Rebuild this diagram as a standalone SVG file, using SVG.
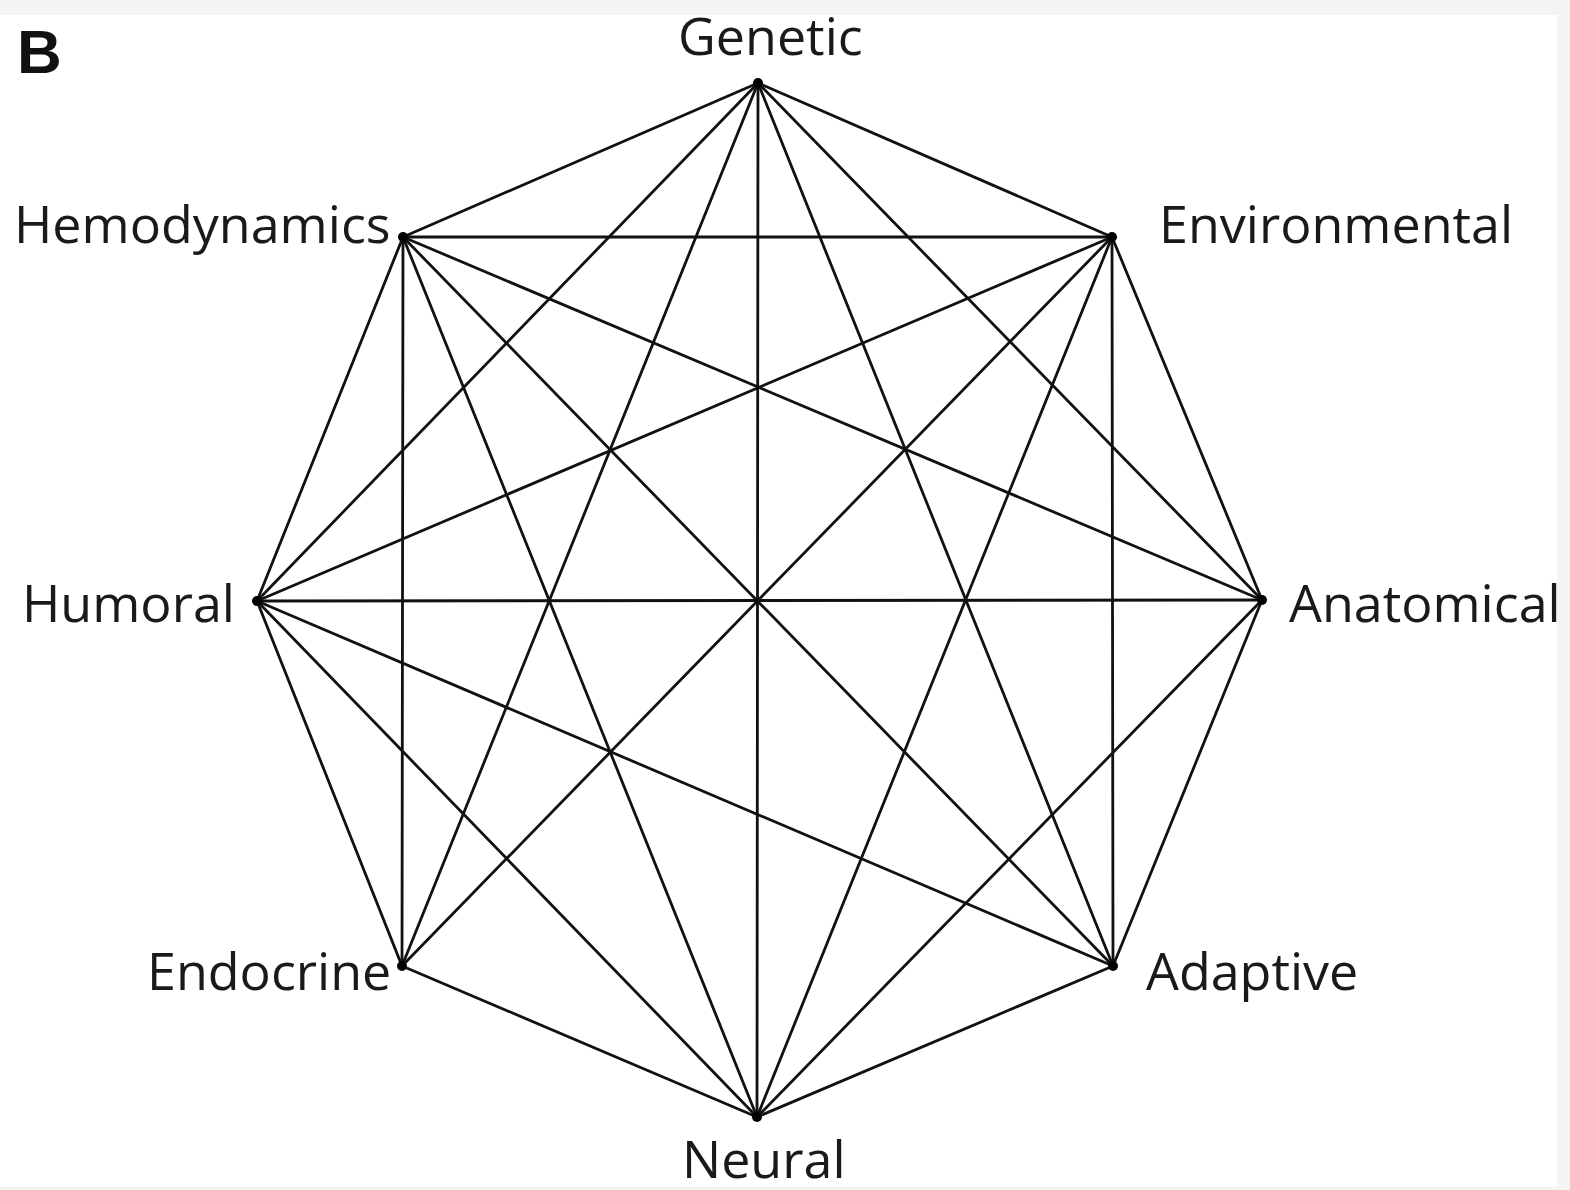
<svg xmlns="http://www.w3.org/2000/svg" width="1570" height="1190" viewBox="0 0 1570 1190">
<style>
.lbl{font-family:"Open Sans","Noto Sans","Liberation Sans",sans-serif;font-size:52px;fill:#1a1a1a}
.e line{stroke:#111;stroke-width:2.8;stroke-linecap:round}
.dot{fill:#000}
</style>
<rect x="0" y="0" width="1570" height="1190" fill="#f4f4f4"/>
<rect x="0" y="15" width="1557" height="1172" fill="#fff"/>
<text x="17" y="73" font-family="Liberation Sans,Arial,sans-serif" font-weight="bold" font-size="62" fill="#111">B</text>
<g id="connectors" class="e">
<line x1="758" y1="83" x2="1112" y2="237"/>
<line x1="758" y1="83" x2="1262" y2="600"/>
<line x1="758" y1="83" x2="1113" y2="966"/>
<line x1="758" y1="83" x2="757" y2="1117"/>
<line x1="758" y1="83" x2="402" y2="966"/>
<line x1="758" y1="83" x2="257" y2="601"/>
<line x1="758" y1="83" x2="403" y2="237"/>
<line x1="1112" y1="237" x2="1262" y2="600"/>
<line x1="1112" y1="237" x2="1113" y2="966"/>
<line x1="1112" y1="237" x2="757" y2="1117"/>
<line x1="1112" y1="237" x2="402" y2="966"/>
<line x1="1112" y1="237" x2="257" y2="601"/>
<line x1="1112" y1="237" x2="403" y2="237"/>
<line x1="1262" y1="600" x2="1113" y2="966"/>
<line x1="1262" y1="600" x2="757" y2="1117"/>
<line x1="1262" y1="600" x2="257" y2="601"/>
<line x1="1262" y1="600" x2="403" y2="237"/>
<line x1="1113" y1="966" x2="757" y2="1117"/>
<line x1="1113" y1="966" x2="257" y2="601"/>
<line x1="1113" y1="966" x2="403" y2="237"/>
<line x1="757" y1="1117" x2="402" y2="966"/>
<line x1="757" y1="1117" x2="257" y2="601"/>
<line x1="757" y1="1117" x2="403" y2="237"/>
<line x1="402" y1="966" x2="257" y2="601"/>
<line x1="402" y1="966" x2="403" y2="237"/>
<line x1="257" y1="601" x2="403" y2="237"/>
</g>
<g id="genetic"><circle class="dot" cx="758" cy="83" r="5"/><text class="lbl" x="678" y="55">Genetic</text></g>
<g id="environmental"><circle class="dot" cx="1112" cy="237" r="5"/><text class="lbl" x="1159" y="243">Environmental</text></g>
<g id="anatomical"><circle class="dot" cx="1262" cy="600" r="5"/><text class="lbl" x="1289" y="622">Anatomical</text></g>
<g id="adaptive"><circle class="dot" cx="1113" cy="966" r="5"/><text class="lbl" x="1146" y="990">Adaptive</text></g>
<g id="neural"><circle class="dot" cx="757" cy="1117" r="5"/><text class="lbl" x="682" y="1178">Neural</text></g>
<g id="endocrine"><circle class="dot" cx="402" cy="966" r="5"/><text class="lbl" x="147" y="990">Endocrine</text></g>
<g id="humoral"><circle class="dot" cx="257" cy="601" r="5"/><text class="lbl" x="22" y="622">Humoral</text></g>
<g id="hemodynamics"><circle class="dot" cx="403" cy="237" r="5"/><text class="lbl" x="14" y="243">Hemodynamics</text></g>
</svg>
